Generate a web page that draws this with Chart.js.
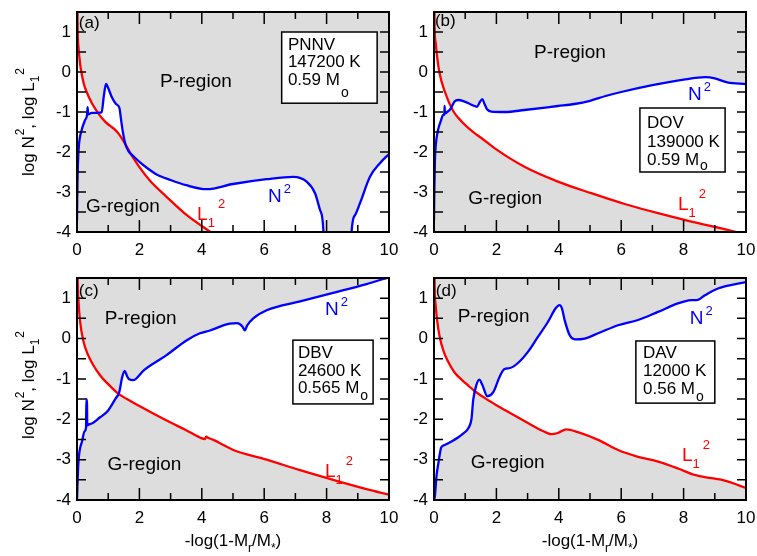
<!DOCTYPE html>
<html>
<head>
<meta charset="utf-8">
<script src="https://cdn.jsdelivr.net/npm/chart.js@4.4.1/dist/chart.umd.min.js"></script>
<style>
  html, body { margin: 0; padding: 0; background: #ffffff; }
  #wrap { position: relative; width: 757px; height: 556px; overflow: hidden; }
  canvas { position: absolute; left: 0; top: 0; }
</style>
</head>
<body>
<div id="wrap">
  <canvas id="ca" width="757" height="556"></canvas>
  <canvas id="cb" width="757" height="556"></canvas>
  <canvas id="cc" width="757" height="556"></canvas>
  <canvas id="cd" width="757" height="556"></canvas>
</div>
<script>
// ---------------- DATA ----------------
// x = -log(1-Mr/M*), y = log N^2 (blue) / log L1^2 (red)
const aN2 = [[0,-3.7],[0.01,-3.0],[0.03,-2.3],[0.06,-1.85],[0.15,-1.45],[0.26,-1.2],[0.32,-1.08],[0.34,-0.88],[0.36,-1.06],[0.47,-1.02],[0.65,-1.02],[0.79,-1.01],[0.86,-0.6],[0.93,-0.3],[1.0,-0.4],[1.11,-0.62],[1.25,-0.8],[1.36,-0.9],[1.4,-1.12],[1.47,-1.5],[1.55,-1.8],[1.65,-1.98],[1.8,-2.1],[2.02,-2.26],[2.3,-2.43],[2.55,-2.56],[3.0,-2.7],[3.5,-2.83],[4.16,-2.93],[5.0,-2.8],[6.08,-2.68],[6.93,-2.62],[7.36,-2.74],[7.63,-3.03],[7.79,-3.45],[7.9,-4.0],[7.95,-6],[8.0,-9],[8.7,-9],[8.76,-6],[8.8,-4.0],[8.91,-3.58],[9.07,-3.28],[9.39,-2.62],[9.71,-2.28],[10,-2.05]];
const aL2 = [[0,3],[0.02,1.1],[0.05,0.6],[0.1,0.2],[0.14,0],[0.22,-0.3],[0.31,-0.5],[0.47,-0.77],[0.67,-1.02],[0.9,-1.24],[1.05,-1.34],[1.2,-1.43],[1.35,-1.56],[1.5,-1.74],[1.75,-2.08],[2.0,-2.38],[2.34,-2.72],[2.87,-3.12],[3.52,-3.58],[4.28,-4.0],[5,-4.4],[6.5,-5.0],[8,-5.5],[10,-6.0]];

const bN2 = [[0,-3.7],[0.01,-3.0],[0.03,-2.2],[0.06,-1.8],[0.13,-1.45],[0.22,-1.22],[0.29,-1.08],[0.33,-1.05],[0.34,-0.85],[0.35,-1.04],[0.42,-1.0],[0.5,-0.95],[0.58,-0.85],[0.66,-0.74],[0.77,-0.7],[0.98,-0.74],[1.15,-0.8],[1.3,-0.85],[1.38,-0.87],[1.47,-0.75],[1.55,-0.68],[1.62,-0.8],[1.7,-0.93],[1.84,-0.99],[2.27,-1.0],[2.9,-0.95],[3.97,-0.85],[4.5,-0.8],[5.0,-0.72],[5.5,-0.6],[6.0,-0.5],[7.0,-0.33],[8.0,-0.19],[8.7,-0.13],[9.0,-0.16],[9.4,-0.26],[10,-0.3]];
const bL2 = [[0,3],[0.02,1.1],[0.05,0.75],[0.09,0.45],[0.17,0],[0.35,-0.5],[0.62,-0.98],[0.9,-1.25],[1.3,-1.53],[1.52,-1.65],[1.95,-1.91],[2.9,-2.37],[3.97,-2.74],[5.04,-3.03],[6.11,-3.3],[7.18,-3.53],[8.25,-3.74],[9.69,-4.0],[10,-4.07]];

const cN2 = [[0,-4],[0.03,-3.3],[0.06,-2.93],[0.17,-2.52],[0.24,-2.3],[0.29,-2.2],[0.30,-1.5],[0.32,-1.6],[0.33,-2.15],[0.4,-2.12],[0.49,-2.1],[0.74,-1.95],[0.97,-1.81],[1.24,-1.48],[1.35,-1.34],[1.45,-0.95],[1.53,-0.8],[1.6,-0.92],[1.67,-1.01],[1.8,-1.03],[2.15,-0.78],[2.87,-0.41],[3.52,-0.04],[3.94,0.13],[4.26,0.2],[4.9,0.37],[5.13,0.38],[5.3,0.3],[5.38,0.2],[5.45,0.32],[5.65,0.5],[6.08,0.7],[7.15,0.92],[8.21,1.13],[9.28,1.35],[10,1.52]];
const cL2 = [[0,3],[0.02,1.5],[0.05,0.9],[0.1,0.42],[0.2,-0.05],[0.35,-0.4],[0.5,-0.63],[0.75,-0.92],[1.0,-1.13],[1.3,-1.35],[1.6,-1.5],[2.0,-1.67],[2.55,-1.9],[3.0,-2.08],[3.5,-2.27],[3.94,-2.45],[4.1,-2.49],[4.14,-2.43],[4.2,-2.46],[4.37,-2.51],[5.01,-2.76],[6.08,-3.0],[7.15,-3.26],[8.21,-3.5],[9.28,-3.73],[10,-3.87]];

const dN2 = [[0,-4],[0.03,-3.9],[0.08,-3.4],[0.14,-3.09],[0.2,-2.8],[0.23,-2.7],[0.34,-2.64],[0.77,-2.45],[0.94,-2.35],[1.1,-2.22],[1.2,-2.0],[1.26,-1.5],[1.36,-1.15],[1.45,-1.02],[1.55,-1.15],[1.71,-1.43],[1.9,-1.33],[2.1,-0.95],[2.25,-0.76],[2.44,-0.73],[2.7,-0.6],[3.01,-0.33],[3.33,0.04],[3.65,0.41],[3.9,0.75],[4.02,0.83],[4.1,0.75],[4.19,0.45],[4.35,0.08],[4.51,-0.02],[4.83,0.0],[5.26,0.13],[5.9,0.33],[6.54,0.46],[7.18,0.66],[7.82,0.87],[8.25,0.95],[8.46,0.96],[8.68,1.07],[9.1,1.24],[10,1.4]];
const dL2 = [[0,3],[0.02,1.3],[0.05,0.85],[0.1,0.45],[0.18,0.05],[0.3,-0.3],[0.45,-0.57],[0.66,-0.84],[0.9,-1.03],[1.09,-1.16],[1.3,-1.3],[1.62,-1.47],[2.0,-1.65],[2.27,-1.77],[2.91,-2.05],[3.4,-2.26],[3.6,-2.33],[3.76,-2.37],[3.97,-2.34],[4.24,-2.25],[4.61,-2.32],[5.26,-2.51],[5.9,-2.76],[6.54,-2.93],[7.18,-3.05],[7.82,-3.22],[8.35,-3.38],[8.89,-3.46],[9.32,-3.52],[10,-3.7]];

const xTickLabels = [0, 2, 4, 6, 8, 10];
const yTickLabels = [-4, -3, -2, -1, 0, 1];
const panelLetters = ['(a)', '(b)', '(c)', '(d)'];
const starClasses = ['PNNV', 'DOV', 'DBV', 'DAV'];
const starTemps = ['147200 K', '139000 K', '24600 K', '12000 K'];
const starMasses = ['0.59', '0.59', '0.565', '0.56'];

// ---------------- LAYOUT (positions in data units of each panel) ----------------
const FONT = "'Liberation Sans', Arial, Helvetica, sans-serif";
Chart.defaults.font.family = FONT;

const layouts = [
  { id: 'ca', n2: aN2, l2: aL2, area: {l: 77, r: 389, t: 12, b: 232}, yTitle: true, yTitleShift: 0, xTitle: false,
    letter: [0.06, 1.1], p: [3.81, -0.25], g: [1.47, -3.38], nLab: [6.12, -3.24], lLab: [3.85, -3.7],
    box: [6.56, 9.62, 1.0, -0.78], boxText: [6.76, [0.55, 0.125, -0.325]], oDrop: 12 },
  { id: 'cb', n2: bN2, l2: bL2, area: {l: 434, r: 746, t: 12, b: 232}, yTitle: false, xTitle: false,
    letter: [0.03, 1.15], p: [4.36, 0.48], g: [2.28, -3.18], nLab: [8.14, -0.7], lLab: [7.82, -3.45],
    box: [6.6, 9.33, -0.9, -2.5], boxText: [6.83, [-1.4, -1.875, -2.325]], oDrop: 5 },
  { id: 'cc', n2: cN2, l2: cL2, area: {l: 77, r: 389, t: 278, b: 500}, yTitle: true, yTitleShift: -4, xTitle: true,
    letter: [0.06, 1.05], p: [2.04, 0.5], g: [2.16, -3.13], nLab: [7.95, 0.58], lLab: [7.95, -3.43],
    box: [6.92, 9.49, -0.04, -1.62], boxText: [7.08, [-0.48, -0.93, -1.35]], oDrop: 7 },
  { id: 'cd', n2: dN2, l2: dL2, area: {l: 434, r: 746, t: 278, b: 500}, yTitle: false, xTitle: true,
    letter: [0.06, 1.05], p: [1.91, 0.53], g: [2.36, -3.08], nLab: [8.2, 0.36], lLab: [7.95, -3.03],
    box: [6.47, 9.0, -0.06, -1.6], boxText: [6.7, [-0.49, -0.93, -1.38]], oDrop: 7 }
];

// ---------------- helpers ----------------
function drawRich(ctx, parts, x, y, o) {
  const F = o.size, S = o.small || Math.round(F * 0.72);
  const R = o.raise != null ? o.raise : F * 0.5, D = o.drop != null ? o.drop : F * 0.35;
  const widths = parts.map(p => {
    ctx.font = (p.k === 'n' ? F : S) + 'px ' + FONT;
    return ctx.measureText(p.t).width + (p.dx || 0);
  });
  const total = widths.reduce((s, w) => s + w, 0);
  let cx = o.align === 'center' ? x - total / 2 : x;
  ctx.textAlign = 'left';
  ctx.textBaseline = 'alphabetic';
  ctx.fillStyle = o.color || '#000';
  parts.forEach((p, i) => {
    ctx.font = (p.k === 'n' ? F : S) + 'px ' + FONT;
    cx += (p.dx || 0);
    let yy = y;
    if (p.k === 'sup') yy = y - R;
    if (p.k === 'sub') yy = y + D;
    ctx.fillText(p.t, cx, yy);
    cx += widths[i] - (p.dx || 0);
  });
}

function makePanel(L, idx) {
  const toXY = arr => arr.map(([x, y]) => ({x, y}));
  const panelPlugin = {
    id: 'panel' + idx,
    beforeDraw(chart) {
      const a = chart.chartArea, ctx = chart.ctx;
      ctx.save();
      ctx.fillStyle = '#dddddd';
      ctx.fillRect(a.left, a.top, a.right - a.left, a.bottom - a.top);
      ctx.restore();
    },
    afterDraw(chart) {
      const a = chart.chartArea, ctx = chart.ctx;
      const xs = chart.scales.x, ys = chart.scales.y;
      const X = v => xs.getPixelForValue(v), Y = v => ys.getPixelForValue(v);
      ctx.save();
      ctx.strokeStyle = '#000';
      ctx.lineWidth = 1.5;
      ctx.beginPath();
      xs.ticks.forEach(t => {
        const px = X(t.value);
        const len = xTickLabels.includes(t.value) ? 12 : 7;
        ctx.moveTo(px, a.bottom); ctx.lineTo(px, a.bottom - len);
        ctx.moveTo(px, a.top); ctx.lineTo(px, a.top + len);
      });
      ys.ticks.forEach(t => {
        const py = Y(t.value);
        const len = 9;
        ctx.moveTo(a.left, py); ctx.lineTo(a.left + len, py);
        ctx.moveTo(a.right, py); ctx.lineTo(a.right - len, py);
      });
      ctx.stroke();
      ctx.lineWidth = 2;
      ctx.strokeRect(a.left, a.top, a.right - a.left, a.bottom - a.top);

      drawRich(ctx, [{t: panelLetters[idx], k: 'n'}], X(L.letter[0]), Y(L.letter[1]), {size: 17});
      ctx.font = '19px ' + FONT;
      ctx.fillStyle = '#000';
      ctx.textAlign = 'center';
      ctx.textBaseline = 'middle';
      ctx.fillText('P-region', X(L.p[0]), Y(L.p[1]));
      ctx.fillText('G-region', X(L.g[0]), Y(L.g[1]));
      drawRich(ctx, [{t: 'N', k: 'n'}, {t: '2', k: 'sup', dx: 2}], X(L.nLab[0]), Y(L.nLab[1]),
        {size: 19, small: 13, raise: 9, color: '#0000ff'});
      drawRich(ctx, [{t: 'L', k: 'n'}, {t: '1', k: 'sub', dx: 0}, {t: '2', k: 'sup', dx: 3}], X(L.lLab[0]), Y(L.lLab[1]),
        {size: 19, small: 13, raise: 12, drop: 7, color: '#ff0000'});
      const bx0 = X(L.box[0]), bx1 = X(L.box[1]), by0 = Y(L.box[2]), by1 = Y(L.box[3]);
      ctx.fillStyle = '#ffffff';
      ctx.fillRect(bx0, by0, bx1 - bx0, by1 - by0);
      ctx.strokeStyle = '#000';
      ctx.lineWidth = 1.5;
      ctx.strokeRect(bx0, by0, bx1 - bx0, by1 - by0);
      const tx = X(L.boxText[0]);
      const bl = L.boxText[1];
      drawRich(ctx, [{t: starClasses[idx], k: 'n'}], tx, Y(bl[0]), {size: 17});
      drawRich(ctx, [{t: starTemps[idx], k: 'n'}], tx, Y(bl[1]), {size: 17});
      drawRich(ctx, [{t: starMasses[idx] + ' M', k: 'n'}, {t: 'o', k: 'sub', dx: 1}], tx, Y(bl[2]),
        {size: 17, small: 14, drop: L.oDrop});

      if (L.yTitle) {
        ctx.save();
        ctx.translate(a.left - 43, (a.top + a.bottom) / 2 + L.yTitleShift);
        ctx.rotate(-Math.PI / 2);
        drawRich(ctx, [{t: 'log N', k: 'n'}, {t: '2', k: 'sup', dx: 1}, {t: ', log L', k: 'n'},
          {t: '1', k: 'sub'}, {t: '2', k: 'sup', dx: 1}], 0, 0,
          {size: 17, small: 12, raise: 10, drop: 5, align: 'center'});
        ctx.restore();
      }
      if (L.xTitle) {
        drawRich(ctx, [{t: '-log(1-M', k: 'n'}, {t: 'r', k: 'sub'}, {t: '/M', k: 'n'}, {t: '*', k: 'sub'}, {t: ')', k: 'n'}],
          (a.left + a.right) / 2, a.bottom + 46, {size: 17, small: 12, drop: 6, align: 'center'});
      }
      ctx.restore();
    }
  };

  const ar = L.area;
  return new Chart(document.getElementById(L.id), {
    type: 'line',
    data: {
      datasets: [
        { label: 'N2', data: toXY(L.n2), borderColor: '#0000ff', borderWidth: 2.3, pointRadius: 0,
          backgroundColor: '#ffffff', fill: {target: 1}, cubicInterpolationMode: 'monotone' },
        { label: 'L1^2', data: toXY(L.l2), borderColor: '#ff0000', borderWidth: 2.3, pointRadius: 0,
          fill: false, cubicInterpolationMode: 'monotone' }
      ]
    },
    options: {
      responsive: false,
      animation: false,
      devicePixelRatio: 1,
      events: [],
      layout: { padding: { left: ar.l - 77, right: 757 - ar.r, top: ar.t, bottom: 556 - ar.b - 30 } },
      plugins: { legend: { display: false }, tooltip: { enabled: false }, filler: { drawTime: 'beforeDatasetsDraw' } },
      scales: {
        x: {
          type: 'linear', min: 0, max: 10,
          grid: { display: false, drawTicks: false },
          border: { display: false },
          ticks: { stepSize: 1, autoSkip: false, maxRotation: 0, padding: 8, color: '#000',
            font: { size: 17, family: FONT },
            callback: v => xTickLabels.includes(v) ? String(v) : '' },
          afterFit: s => { s.height = 30; s.paddingLeft = 0; s.paddingRight = 0; }
        },
        y: {
          type: 'linear', min: -4, max: 1.5,
          grid: { display: false, drawTicks: false },
          border: { display: false },
          ticks: { stepSize: 0.5, autoSkip: false, padding: 6, color: '#000',
            font: { size: 17, family: FONT },
            callback: v => yTickLabels.includes(v) ? String(v) : '' },
          afterFit: s => { s.width = 77; s.paddingTop = 0; s.paddingBottom = 0; }
        }
      }
    },
    plugins: [panelPlugin]
  });
}

layouts.forEach((L, i) => makePanel(L, i));
</script>
</body>
</html>
